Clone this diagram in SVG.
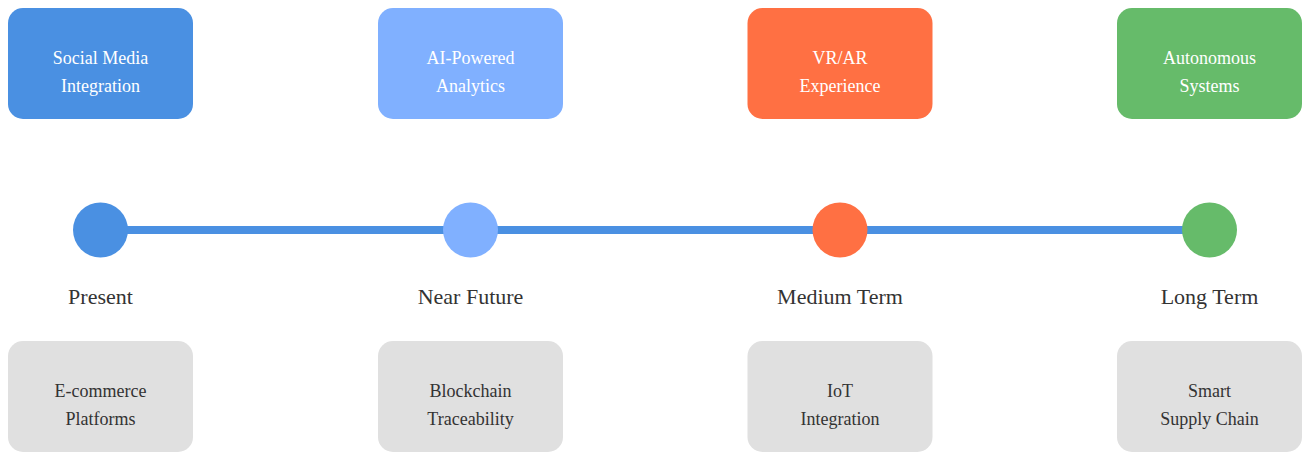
<svg xmlns="http://www.w3.org/2000/svg" width="1307" height="452" viewBox="0 0 1307 452">
<style>
.box{stroke:none}
.t{font-family:"Liberation Serif","Times New Roman",serif;font-size:18px;text-anchor:middle}
.w{fill:#ffffff}
.d{fill:#333333}
.lbl{font-family:"Liberation Serif","Times New Roman",serif;font-size:22px;text-anchor:middle;fill:#333333}
</style>
<rect width="1307" height="452" fill="#ffffff"/>
<g id="connectors">
<line x1="100.5" y1="230" x2="1209.5" y2="230" stroke="#4a90e2" stroke-width="8"/>
</g>
<g id="node-present">
<rect class="box" x="8" y="8" width="185" height="111" rx="15" fill="#4a90e2"/>
<text class="t w" x="100.5" y="64">Social Media</text>
<text class="t w" x="100.5" y="92">Integration</text>
<circle cx="100.5" cy="230" r="27.5" fill="#4a90e2"/>
<text class="lbl" x="100.5" y="304">Present</text>
<rect class="box" x="8" y="341" width="185" height="111" rx="15" fill="#e0e0e0"/>
<text class="t d" x="100.5" y="397">E-commerce</text>
<text class="t d" x="100.5" y="425">Platforms</text>
</g>
<g id="node-near">
<rect class="box" x="378" y="8" width="185" height="111" rx="15" fill="#80b0ff"/>
<text class="t w" x="470.5" y="64">AI-Powered</text>
<text class="t w" x="470.5" y="92">Analytics</text>
<circle cx="470.5" cy="230" r="27.5" fill="#80b0ff"/>
<text class="lbl" x="470.5" y="304">Near Future</text>
<rect class="box" x="378" y="341" width="185" height="111" rx="15" fill="#e0e0e0"/>
<text class="t d" x="470.5" y="397">Blockchain</text>
<text class="t d" x="470.5" y="425">Traceability</text>
</g>
<g id="node-medium">
<rect class="box" x="747.5" y="8" width="185" height="111" rx="15" fill="#ff7043"/>
<text class="t w" x="840" y="64">VR/AR</text>
<text class="t w" x="840" y="92">Experience</text>
<circle cx="840" cy="230" r="27.5" fill="#ff7043"/>
<text class="lbl" x="840" y="304">Medium Term</text>
<rect class="box" x="747.5" y="341" width="185" height="111" rx="15" fill="#e0e0e0"/>
<text class="t d" x="840" y="397">IoT</text>
<text class="t d" x="840" y="425">Integration</text>
</g>
<g id="node-long">
<rect class="box" x="1117" y="8" width="185" height="111" rx="15" fill="#66bb6a"/>
<text class="t w" x="1209.5" y="64">Autonomous</text>
<text class="t w" x="1209.5" y="92">Systems</text>
<circle cx="1209.5" cy="230" r="27.5" fill="#66bb6a"/>
<text class="lbl" x="1209.5" y="304">Long Term</text>
<rect class="box" x="1117" y="341" width="185" height="111" rx="15" fill="#e0e0e0"/>
<text class="t d" x="1209.5" y="397">Smart</text>
<text class="t d" x="1209.5" y="425">Supply Chain</text>
</g>
</svg>
